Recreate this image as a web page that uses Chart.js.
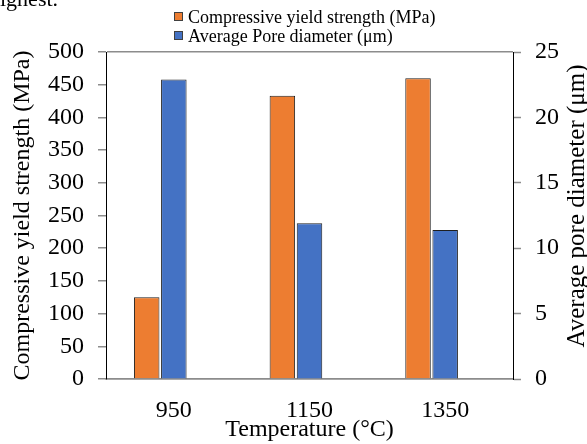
<!DOCTYPE html>
<html><head><meta charset="utf-8">
<script src="https://cdn.jsdelivr.net/npm/chart.js@4"></script>
<style>html,body{margin:0;padding:0;background:#fff;overflow:hidden}canvas{display:block}</style>
</head><body>
<canvas id="c" width="587" height="444"></canvas>
<script>
// ---- data ----
const categories = ['950', '1150', '1350'];
const yieldStrength = [125, 433, 460];        // MPa, left axis
const poreDiameter = [22.9, 11.9, 11.4];      // µm, right axis
const emptySlot = [null, null, null];         // unused third slot in each group
const seriesLabels = ['Compressive yield strength (MPa)', 'Average Pore diameter (\u03bcm)'];
const seriesColors = ['#ED7D31', '#4472C4'];
const leftAxis = { min: 0, max: 500, step: 50 };
const rightAxis = { min: 0, max: 25, step: 5 };
const xTitle = 'Temperature (\u00b0C)';
const yTitle = 'Compressive yield strength (MPa)';
const y1Title = 'Average pore diameter (\u03bcm)';
const contextText = 'highest.';

const FONT = '"Liberation Serif", "Times New Roman", serif';

const extras = {
  id: 'extras',
  afterDraw(chart) {
    const ctx = chart.ctx;
    ctx.save();
    ctx.fillStyle = '#000';
    ctx.textAlign = 'left';
    ctx.textBaseline = 'alphabetic';
    ctx.font = '22px ' + FONT;
    ctx.fillText(contextText, -11, 6);
    // legend
    ctx.font = '18px ' + FONT;
    chart.data.datasets.slice(0, 2).forEach((ds, i) => {
      const top = 12 + i * 19;
      ctx.fillStyle = ds.backgroundColor;
      ctx.fillRect(174.5, top + 0.5, 8, 8);
      ctx.strokeStyle = '#404040';
      ctx.lineWidth = 1;
      ctx.strokeRect(174.5, top + 0.5, 8, 8);
      ctx.fillStyle = '#000';
      ctx.fillText(ds.label, 188, top + 10.5);
    });
    // right axis title (reads bottom to top)
    ctx.translate(577, 206);
    ctx.rotate(-Math.PI / 2);
    ctx.font = '25px ' + FONT;
    ctx.textAlign = 'center';
    ctx.textBaseline = 'middle';
    ctx.fillText(y1Title, 0, 0);
    ctx.restore();
  }
};

new Chart(document.getElementById('c'), {
  type: 'bar',
  data: {
    labels: categories,
    datasets: [
      { label: seriesLabels[0], data: yieldStrength, yAxisID: 'y',
        backgroundColor: seriesColors[0], borderColor: '#1f1f1f', borderWidth: 1 },
      { label: seriesLabels[1], data: poreDiameter, yAxisID: 'y1',
        backgroundColor: seriesColors[1], borderColor: '#1f1f1f', borderWidth: 1 },
      { label: '', data: emptySlot, yAxisID: 'y' }
    ]
  },
  options: {
    responsive: false,
    animation: false,
    devicePixelRatio: 1,
    layout: { padding: { top: 52, left: 0, right: 0, bottom: 0 } },
    categoryPercentage: 0.6,
    barPercentage: 0.94,
    plugins: { legend: { display: false }, tooltip: { enabled: false } },
    scales: {
      x: {
        grid: { display: false, drawTicks: false },
        border: { display: true, color: '#8c8c8c', width: 1.5 },
        ticks: { color: '#000', font: { family: FONT, size: 24 }, padding: 17 },
        title: { display: true, text: xTitle, color: '#000',
                 font: { family: FONT, size: 24, lineHeight: 1.2 }, padding: { top: 0, bottom: 0 } },
        afterFit(s) { s.height = 65; }
      },
      y: {
        position: 'left',
        min: leftAxis.min, max: leftAxis.max,
        ticks: { stepSize: leftAxis.step, color: '#000', font: { family: FONT, size: 24 }, padding: 14 },
        grid: {
          drawOnChartArea: true, drawTicks: true, tickLength: 8,
          color: (c) => (c.tick && (c.tick.value === leftAxis.min || c.tick.value === leftAxis.max)) ? '#8c8c8c' : 'rgba(0,0,0,0)',
          tickColor: '#8c8c8c', lineWidth: 1.5, tickWidth: 1.5
        },
        border: { display: true, color: '#000', width: 1 },
        title: { display: true, text: yTitle, color: '#000',
                 font: { family: FONT, size: 24, lineHeight: 1.2 }, padding: { top: 8, bottom: 0 } },
        afterFit(s) { s.width = 106; }
      },
      y1: {
        position: 'right',
        min: rightAxis.min, max: rightAxis.max,
        ticks: { stepSize: rightAxis.step, color: '#000', font: { family: FONT, size: 24 }, padding: 14 },
        grid: { drawOnChartArea: false, drawTicks: true, tickLength: 8, tickColor: '#8c8c8c', tickWidth: 1.5 },
        border: { display: true, color: '#000', width: 1 },
        title: { display: false },
        afterFit(s) { s.width = 74; }
      }
    }
  },
  plugins: [extras]
});
</script>
</body></html>
